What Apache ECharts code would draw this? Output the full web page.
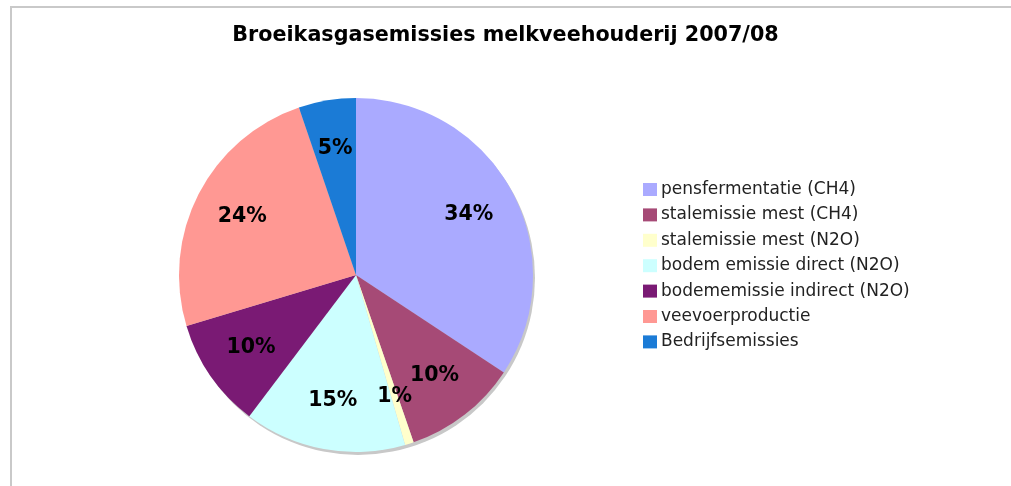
<!DOCTYPE html>
<html>
<head>
<meta charset="utf-8">
<script src="https://cdn.jsdelivr.net/npm/echarts@6/dist/echarts.min.js"></script>
<style>
  html, body { margin: 0; padding: 0; background: #fff; }
  #frame {
    position: absolute; left: 10px; top: 6px; right: 0; bottom: 0;
    border-left: 2px solid #c9c9c9; border-top: 2px solid #c9c9c9;
  }
  #chart { position: absolute; left: 0; top: 0; width: 1011px; height: 486px; }
</style>
</head>
<body>
<div id="frame"></div>
<div id="chart"></div>
<script>
// bronnen van broeikasgasemissies (aandeel in %)
var categories = [
  'pensfermentatie (CH4)',
  'stalemissie mest (CH4)',
  'stalemissie mest (N2O)',
  'bodem emissie direct (N2O)',
  'bodememissie indirect (N2O)',
  'veevoerproductie',
  'Bedrijfsemissies'
]
var shares = [34.1, 10.4, 0.8, 14.7, 10.0, 24.3, 5.2]
var colors = ['#aaaaff', '#a64a76', '#ffffcc', '#ccffff', '#7a1a74', '#ff9893', '#1b7bd6']

var pieData = categories.map(function (name, i) {
  return {name: name, value: shares[i], itemStyle: {color: colors[i]}}
})
var labelData = categories.map(function (name, i) {
  return {name: name, value: shares[i]}
})

var chart = echarts.init(document.getElementById('chart'))
chart.setOption({
  animation: false,
  title: {
    text: 'Broeikasgasemissies melkveehouderij 2007/08',
    left: 'center',
    top: 20,
    textStyle: {fontFamily: 'DejaVu Sans', fontWeight: 'bold', fontSize: 20.7, color: '#000'}
  },
  legend: {
    orient: 'vertical',
    left: 643,
    top: 181,
    padding: 0,
    itemWidth: 14,
    itemHeight: 13,
    itemGap: 8.4,
    icon: 'rect',
    data: categories,
    textStyle: {fontFamily: 'DejaVu Sans', fontSize: 17, color: '#222', lineHeight: 16, padding: [0, 0, 0, -1]}
  },
  series: [
    {
      // schaduw achter de taart
      type: 'pie',
      silent: true,
      center: [358, 278],
      radius: [0, 177],
      label: {show: false},
      itemStyle: {color: '#c8c8c8', borderWidth: 0},
      data: [1]
    },
    {
      type: 'pie',
      silent: true,
      center: [356, 275],
      radius: [0, 177],
      startAngle: 90,
      clockwise: true,
      itemStyle: {borderWidth: 0},
      label: {show: false},
      labelLine: {show: false},
      data: pieData
    },
    {
      // alleen de procentlabels
      type: 'pie',
      silent: true,
      center: [356, 275],
      radius: [0, 250],
      startAngle: 90,
      clockwise: true,
      itemStyle: {color: 'rgba(0,0,0,0)', borderWidth: 0},
      label: {
        show: true,
        position: 'inside',
        formatter: function (p) { return Math.round(p.value) + '%' },
        fontFamily: 'DejaVu Sans',
        fontWeight: 'bold',
        fontSize: 20.5,
        color: '#000'
      },
      labelLine: {show: false},
      data: labelData
    }
  ]
})
</script>
</body>
</html>
